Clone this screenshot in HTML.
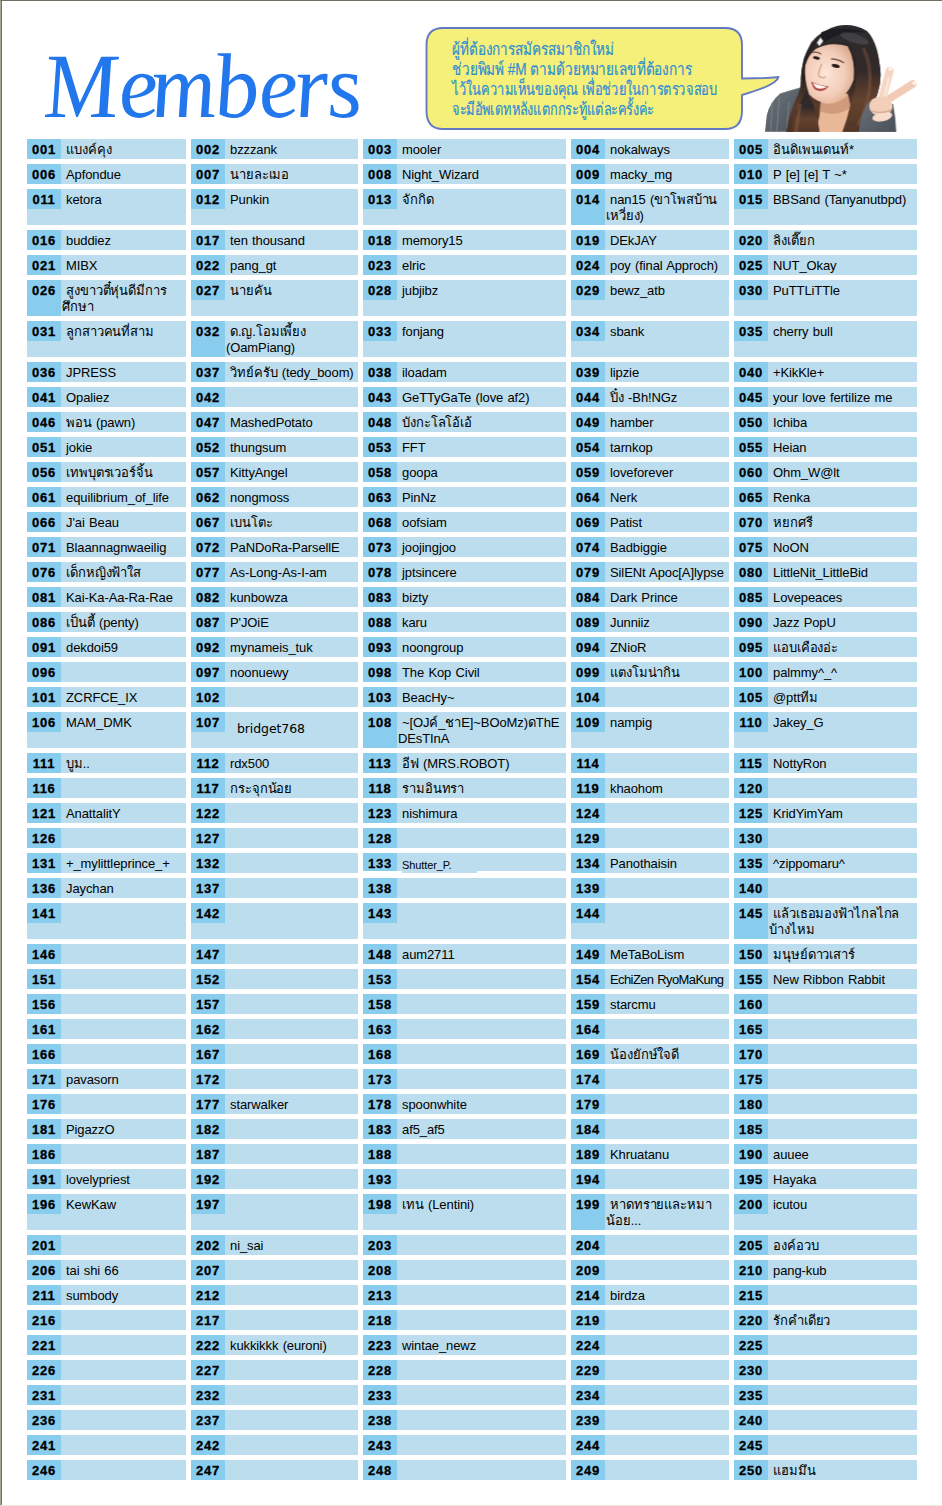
<!DOCTYPE html>
<html lang="th">
<head>
<meta charset="utf-8">
<title>Members</title>
<style>
html,body{margin:0;padding:0;background:#fff;}
body{width:942px;height:1506px;position:relative;overflow:hidden;font-family:"Liberation Sans",sans-serif;font-size:13px;color:#000;}
#frame{position:absolute;left:0;top:0;width:942px;height:1506px;box-sizing:border-box;border-left:1px solid #aca899;border-top:1px solid #716f64;border-bottom:1px solid #ece9d8;}
#frame:before{content:"";position:absolute;left:0;top:0;width:1px;height:1504px;background:#716f64;}
#title{position:absolute;left:40px;top:20px;width:330px;height:115px;overflow:visible;}
#bubble{position:absolute;left:415px;top:15px;width:380px;height:125px;overflow:visible;}
#photo{position:absolute;left:760px;top:20px;width:165px;height:115px;overflow:hidden;}
table{position:absolute;left:22px;top:134px;width:900px;border-collapse:separate;border-spacing:5px;table-layout:fixed;}
td{padding:0;height:20px;vertical-align:top;background:#bbddee;}
tr.t td{height:36px;}
td div{position:relative;height:20px;padding:3px 0 0 35px;box-sizing:border-box;line-height:16px;white-space:nowrap;text-indent:4px;overflow:hidden;letter-spacing:-0.1px;word-spacing:0.8px;}
tr.t td div{height:36px;}
td b{position:absolute;left:0;top:0;width:34px;height:20px;line-height:22px;text-align:center;text-indent:0;background:#88ccee;font-weight:bold;letter-spacing:0.7px;word-spacing:0;-webkit-text-stroke:0.3px #000;overflow:hidden;}
td.w b{height:36px;}
td.n div{letter-spacing:-0.6px;}
td i{font-style:normal;}
td .v{font-family:"DejaVu Sans",sans-serif;font-size:12.5px;position:relative;left:7px;top:6px;}
td .s{font-size:11px;position:relative;top:1px;}
td u{position:absolute;bottom:0;height:2px;background:#fff;}
td u.l{left:0;width:39px;}
td u.r{left:114px;right:0;}
</style>
</head>
<body>
<div id="frame"></div>
<svg id="title" viewBox="0 0 330 115">
<text transform="translate(0 97) skewX(6) scale(0.98 1)" x="6.100 82.600 115.600 180.100 225.600 262 295.200" y="0" font-family="Liberation Serif, serif" font-style="italic" font-size="92" fill="#2277ec">Members</text>
</svg>
<svg id="bubble" viewBox="0 0 380 125">
<path d="M28 13 H310 Q327 13 327 30 V63.5 Q350 63.5 363.500 62 Q362 70 327 80 V96 Q327 114 310 114 H28 Q11.500 114 11.500 96 V30 Q11.500 13 28 13 Z" fill="#f5f07a" stroke="#6479c4" stroke-width="1.9" stroke-linejoin="round"/>
<g font-family="Liberation Sans, sans-serif" font-size="17" fill="#2f8fd3" stroke="#2f8fd3" stroke-width="0.200">
<text x="37" y="39.500" textLength="162" lengthAdjust="spacingAndGlyphs">ผู้ที่ต้องการสมัครสมาชิกใหม่</text>
<text x="37" y="60" textLength="240" lengthAdjust="spacingAndGlyphs">ช่วยพิมพ์ #M ตามด้วยหมายเลขที่ต้องการ</text>
<text x="37" y="80" textLength="265" lengthAdjust="spacingAndGlyphs">ไว้ในความเห็นของคุณ เพื่อช่วยในการตรวจสอบ</text>
<text x="37" y="100" textLength="202" lengthAdjust="spacingAndGlyphs">จะมีอัพเดทหลังแตกกระทู้แต่ละครั้งค่ะ</text>
</g>
</svg>
<svg id="photo" viewBox="0 0 942 657">
<defs>
<linearGradient id="hg" x1="0" y1="0" x2="0" y2="1"><stop offset="0" stop-color="#2a2a2d"/><stop offset="0.5" stop-color="#2b2422"/><stop offset="0.75" stop-color="#5a3c2d"/><stop offset="1" stop-color="#4a3227"/></linearGradient>
<linearGradient id="hl" x1="0" y1="0" x2="0" y2="1"><stop offset="0" stop-color="#2c2b2e"/><stop offset="0.4" stop-color="#33292a"/><stop offset="0.7" stop-color="#66432f"/><stop offset="1" stop-color="#523628"/></linearGradient>
<radialGradient id="fg" cx="0.42" cy="0.5" r="0.65"><stop offset="0" stop-color="#fde6da"/><stop offset="0.6" stop-color="#f3cdb9"/><stop offset="1" stop-color="#d9a68c"/></radialGradient>
<linearGradient id="jg" x1="0" y1="0" x2="1" y2="1"><stop offset="0" stop-color="#6c747c"/><stop offset="1" stop-color="#4a5058"/></linearGradient>
<filter id="bl" x="-5%" y="-5%" width="110%" height="110%"><feGaussianBlur stdDeviation="3"/></filter>
<clipPath id="pc"><rect x="0" y="0" width="942" height="637"/></clipPath>
</defs>
<g clip-path="url(#pc)"><g filter="url(#bl)">
<!-- jacket left -->
<path d="M28 640 L38 545 Q55 470 115 420 Q190 395 262 378 L230 470 L180 640 Z" fill="url(#jg)"/>
<path d="M70 470 L60 640 M110 440 L95 640 M150 640 L165 470" stroke="#7d868e" stroke-width="10" fill="none" opacity="0.5"/>
<!-- hair back -->
<path d="M232 335 Q238 220 292 128 Q350 55 440 33 Q530 15 610 62 Q668 120 682 250 Q700 340 668 430 Q640 500 600 570 L565 640 L150 640 Q165 540 205 450 Q235 400 232 335 Z" fill="url(#hg)"/>
<!-- neck / chest -->
<path d="M350 440 L500 420 Q515 520 560 640 L320 640 Q345 540 350 440 Z" fill="#e9b896"/>
<path d="M345 470 Q420 500 505 430 L520 500 Q430 560 340 520 Z" fill="#c48f70" opacity="0.7"/>
<!-- face -->
<path d="M318 165 Q400 120 500 150 Q545 230 535 340 Q500 440 410 475 Q330 480 280 425 Q250 340 258 255 Q280 195 318 165 Z" fill="url(#fg)"/>
<!-- hair front strands over face sides -->
<path d="M330 150 Q420 110 505 135 Q540 170 548 260 Q556 380 520 470 Q500 560 470 640 L560 640 Q640 520 672 420 Q700 330 680 240 Q660 110 590 60 Q480 20 380 80 Q320 120 300 170 Z" fill="url(#hl)"/>
<path d="M300 170 Q270 210 255 270 Q240 320 236 350 Q232 300 250 220 Q275 150 330 110 Z" fill="#2b2220"/>
<path d="M262 400 Q230 470 200 560 L178 640 L340 640 Q330 560 300 470 Q275 440 262 400 Z" fill="url(#hl)"/>
<path d="M590 160 Q640 260 625 400 Q610 500 560 600" stroke="#8c5c3e" stroke-width="20" fill="none" opacity="0.4"/>
<path d="M230 480 Q215 560 205 640" stroke="#8c5c3e" stroke-width="18" fill="none" opacity="0.5"/>
<path d="M350 70 Q460 30 600 70 Q520 60 440 90 Q380 110 340 150 Z" fill="#1d1d20"/>
<ellipse cx="540" cy="105" rx="85" ry="26" fill="#5a5a60" opacity="0.45" transform="rotate(18 540 105)"/>
<!-- eyes, brows -->
<ellipse cx="322" cy="217" rx="20" ry="9" fill="#2a1d1a" transform="rotate(12 322 217)"/>
<ellipse cx="432" cy="262" rx="24" ry="10" fill="#2a1d1a" transform="rotate(14 432 262)"/>
<path d="M300 185 Q325 178 350 195" stroke="#5a3c30" stroke-width="8" fill="none" opacity="0.8"/>
<path d="M405 222 Q445 222 480 245" stroke="#5a3c30" stroke-width="8" fill="none" opacity="0.8"/>
<!-- nose -->
<path d="M352 250 Q330 300 335 320 Q350 335 375 325" stroke="#d09878" stroke-width="9" fill="none" opacity="0.7"/>
<!-- mouth -->
<path d="M292 352 Q335 372 392 380 Q360 418 318 400 Q298 385 292 352 Z" fill="#b24d48"/>
<path d="M302 360 Q340 376 382 382 Q355 398 322 388 Q308 378 302 360 Z" fill="#fff8f2"/>
<!-- hair clip -->
<path d="M325 130 L345 100 L360 120 L350 135 L338 148 Z" fill="#f4f4f4" stroke="#9a9a9a" stroke-width="4"/>
<!-- sleeve right -->
<path d="M565 640 Q570 560 598 505 Q620 460 650 448 L668 520 L760 478 Q775 560 778 640 Z" fill="url(#jg)"/>
<!-- hand -->
<path d="M700 440 L740 290" stroke="#f5d6c4" stroke-width="46" stroke-linecap="round" fill="none"/>
<path d="M745 445 L872 365" stroke="#f1cbb6" stroke-width="44" stroke-linecap="round" fill="none"/>
<ellipse cx="690" cy="492" rx="66" ry="56" fill="#f3cfba"/>
<ellipse cx="698" cy="552" rx="58" ry="26" fill="#f7dccb" transform="rotate(-12 698 552)"/>
<path d="M636 520 Q690 538 748 515" stroke="#c99a80" stroke-width="8" fill="none" opacity="0.7"/>
<path d="M712 430 L735 330" stroke="#fdeee6" stroke-width="12" stroke-linecap="round" fill="none" opacity="0.8"/>
<ellipse cx="744" cy="278" rx="12" ry="14" fill="#fdf1ec"/>
<ellipse cx="882" cy="360" rx="14" ry="11" fill="#fdf1ec"/>
</g></g>
</svg>
<table>
<colgroup><col style="width:159px"><col style="width:167px"><col style="width:203px"><col style="width:158px"><col style="width:183px"></colgroup>
<tr><td><div><b>001</b>แบงค์คุง</div></td><td><div><b>002</b>bzzzank</div></td><td><div><b>003</b>mooler</div></td><td><div><b>004</b>nokalways</div></td><td><div><b>005</b>อินดิเพนเดนท์*</div></td></tr>
<tr><td><div><b>006</b>Apfondue</div></td><td><div><b>007</b>นายละเมอ</div></td><td><div><b>008</b>Night_Wizard</div></td><td><div><b>009</b>macky_mg</div></td><td><div><b>010</b>P [e] [e] T ~*</div></td></tr>
<tr class="t"><td><div><b>011</b>ketora</div></td><td><div><b>012</b>Punkin</div></td><td><div><b>013</b>จักกิด</div></td><td class="w"><div><b>014</b>nan15 (ขาโพสบ้าน<br><i>เหวี่ยง)</i></div></td><td><div><b>015</b>BBSand (Tanyanutbpd)</div></td></tr>
<tr><td><div><b>016</b>buddiez</div></td><td><div><b>017</b>ten thousand</div></td><td><div><b>018</b>memory15</div></td><td><div><b>019</b>DEkJAY</div></td><td><div><b>020</b>ลิงเตี๊ยก</div></td></tr>
<tr><td><div><b>021</b>MIBX</div></td><td><div><b>022</b>pang_gt</div></td><td><div><b>023</b>elric</div></td><td><div><b>024</b>poy (final Approch)</div></td><td><div><b>025</b>NUT_Okay</div></td></tr>
<tr class="t"><td class="w"><div><b>026</b>สูงขาวตี๋หุ่นดีมีการ<br><i>ศึกษา</i></div></td><td><div><b>027</b>นายคัน</div></td><td><div><b>028</b>jubjibz</div></td><td><div><b>029</b>bewz_atb</div></td><td><div><b>030</b>PuTTLiTTle</div></td></tr>
<tr class="t"><td><div><b>031</b>ลูกสาวคนที่สาม</div></td><td class="w"><div><b>032</b>ด.ญ.โอมเพี้ยง<br><i>(OamPiang)</i></div></td><td><div><b>033</b>fonjang</div></td><td><div><b>034</b>sbank</div></td><td><div><b>035</b>cherry bull</div></td></tr>
<tr><td><div><b>036</b>JPRESS</div></td><td><div><b>037</b>วิทย์ครับ (tedy_boom)</div></td><td><div><b>038</b>iloadam</div></td><td><div><b>039</b>lipzie</div></td><td><div><b>040</b>+KikKle+</div></td></tr>
<tr><td><div><b>041</b>Opaliez</div></td><td><div><b>042</b></div></td><td><div><b>043</b>GeTTyGaTe (love af2)</div></td><td><div><b>044</b>ปิ๋ง -Bh!NGz</div></td><td><div><b>045</b>your love fertilize me</div></td></tr>
<tr><td><div><b>046</b>พอน (pawn)</div></td><td><div><b>047</b>MashedPotato</div></td><td><div><b>048</b>บังกะโลโอ้เอ้</div></td><td><div><b>049</b>hamber</div></td><td><div><b>050</b>Ichiba</div></td></tr>
<tr><td><div><b>051</b>jokie</div></td><td><div><b>052</b>thungsum</div></td><td><div><b>053</b>FFT</div></td><td><div><b>054</b>tarnkop</div></td><td><div><b>055</b>Heian</div></td></tr>
<tr><td><div><b>056</b>เทพบุตรเวอร์จิ้น</div></td><td><div><b>057</b>KittyAngel</div></td><td><div><b>058</b>goopa</div></td><td><div><b>059</b>loveforever</div></td><td><div><b>060</b>Ohm_W@lt</div></td></tr>
<tr><td><div><b>061</b>equilibrium_of_life</div></td><td><div><b>062</b>nongmoss</div></td><td><div><b>063</b>PinNz</div></td><td><div><b>064</b>Nerk</div></td><td><div><b>065</b>Renka</div></td></tr>
<tr><td><div><b>066</b>J'ai Beau</div></td><td><div><b>067</b>เบนโตะ</div></td><td><div><b>068</b>oofsiam</div></td><td><div><b>069</b>Patist</div></td><td><div><b>070</b>หยกศรี</div></td></tr>
<tr><td><div><b>071</b>Blaannagnwaeilig</div></td><td><div><b>072</b>PaNDoRa-ParsellE</div></td><td><div><b>073</b>joojingjoo</div></td><td><div><b>074</b>Badbiggie</div></td><td><div><b>075</b>NoON</div></td></tr>
<tr><td><div><b>076</b>เด็กหญิงฟ้าใส</div></td><td><div><b>077</b>As-Long-As-I-am</div></td><td><div><b>078</b>jptsincere</div></td><td><div><b>079</b>SilENt Apoc[A]lypse</div></td><td><div><b>080</b>LittleNit_LittleBid</div></td></tr>
<tr><td><div><b>081</b>Kai-Ka-Aa-Ra-Rae</div></td><td><div><b>082</b>kunbowza</div></td><td><div><b>083</b>bizty</div></td><td><div><b>084</b>Dark Prince</div></td><td><div><b>085</b>Lovepeaces</div></td></tr>
<tr><td><div><b>086</b>เป็นตี้ (penty)</div></td><td><div><b>087</b>P'JOiE</div></td><td><div><b>088</b>karu</div></td><td><div><b>089</b>Junniiz</div></td><td><div><b>090</b>Jazz PopU</div></td></tr>
<tr><td><div><b>091</b>dekdoi59</div></td><td><div><b>092</b>mynameis_tuk</div></td><td><div><b>093</b>noongroup</div></td><td><div><b>094</b>ZNioR</div></td><td><div><b>095</b>แอบเคืองอ่ะ</div></td></tr>
<tr><td><div><b>096</b></div></td><td><div><b>097</b>noonuewy</div></td><td><div><b>098</b>The Kop Civil</div></td><td><div><b>099</b>แตงโมน่ากิน</div></td><td><div><b>100</b>palmmy^_^</div></td></tr>
<tr><td><div><b>101</b>ZCRFCE_IX</div></td><td><div><b>102</b></div></td><td><div><b>103</b>BeacHy~</div></td><td><div><b>104</b></div></td><td><div><b>105</b>@pttทีม</div></td></tr>
<tr class="t"><td><div><b>106</b>MAM_DMK</div></td><td><div><b>107</b><span class="v">bridget768</span></div></td><td class="w"><div><b>108</b>~[OJค์_ชาE]~BOoMz)ดThE<br><i>DEsTInA</i></div></td><td><div><b>109</b>nampig</div></td><td><div><b>110</b>Jakey_G</div></td></tr>
<tr><td><div><b>111</b>บูม..</div></td><td><div><b>112</b>rdx500</div></td><td><div><b>113</b>อีฟ (MRS.ROBOT)</div></td><td><div><b>114</b></div></td><td><div><b>115</b>NottyRon</div></td></tr>
<tr><td><div><b>116</b></div></td><td><div><b>117</b>กระจุกน้อย</div></td><td><div><b>118</b>รามอินทรา</div></td><td><div><b>119</b>khaohom</div></td><td><div><b>120</b></div></td></tr>
<tr><td><div><b>121</b>AnattalitY</div></td><td><div><b>122</b></div></td><td><div><b>123</b>nishimura</div></td><td><div><b>124</b></div></td><td><div><b>125</b>KridYimYam</div></td></tr>
<tr><td><div><b>126</b></div></td><td><div><b>127</b></div></td><td><div><b>128</b></div></td><td><div><b>129</b></div></td><td><div><b>130</b></div></td></tr>
<tr><td><div><b>131</b>+_mylittleprince_+</div></td><td><div><b>132</b></div></td><td><div><b>133</b><span class="s">Shutter_P.</span><u class="l"></u><u class="r"></u></div></td><td><div><b>134</b>Panothaisin</div></td><td><div><b>135</b>^zippomaru^</div></td></tr>
<tr><td><div><b>136</b>Jaychan</div></td><td><div><b>137</b></div></td><td><div><b>138</b></div></td><td><div><b>139</b></div></td><td><div><b>140</b></div></td></tr>
<tr class="t"><td><div><b>141</b></div></td><td><div><b>142</b></div></td><td><div><b>143</b></div></td><td><div><b>144</b></div></td><td class="w"><div><b>145</b>แล้วเธอมองฟ้าไกลไกล<br><i>บ้างไหม</i></div></td></tr>
<tr><td><div><b>146</b></div></td><td><div><b>147</b></div></td><td><div><b>148</b>aum2711</div></td><td><div><b>149</b>MeTaBoLism</div></td><td><div><b>150</b>มนุษย์ดาวเสาร์</div></td></tr>
<tr><td><div><b>151</b></div></td><td><div><b>152</b></div></td><td><div><b>153</b></div></td><td class="n"><div><b>154</b>EchiZen RyoMaKung</div></td><td><div><b>155</b>New Ribbon Rabbit</div></td></tr>
<tr><td><div><b>156</b></div></td><td><div><b>157</b></div></td><td><div><b>158</b></div></td><td><div><b>159</b>starcmu</div></td><td><div><b>160</b></div></td></tr>
<tr><td><div><b>161</b></div></td><td><div><b>162</b></div></td><td><div><b>163</b></div></td><td><div><b>164</b></div></td><td><div><b>165</b></div></td></tr>
<tr><td><div><b>166</b></div></td><td><div><b>167</b></div></td><td><div><b>168</b></div></td><td><div><b>169</b>น้องยักษ์ใจดี</div></td><td><div><b>170</b></div></td></tr>
<tr><td><div><b>171</b>pavasorn</div></td><td><div><b>172</b></div></td><td><div><b>173</b></div></td><td><div><b>174</b></div></td><td><div><b>175</b></div></td></tr>
<tr><td><div><b>176</b></div></td><td><div><b>177</b>starwalker</div></td><td><div><b>178</b>spoonwhite</div></td><td><div><b>179</b></div></td><td><div><b>180</b></div></td></tr>
<tr><td><div><b>181</b>PigazzO</div></td><td><div><b>182</b></div></td><td><div><b>183</b>af5_af5</div></td><td><div><b>184</b></div></td><td><div><b>185</b></div></td></tr>
<tr><td><div><b>186</b></div></td><td><div><b>187</b></div></td><td><div><b>188</b></div></td><td><div><b>189</b>Khruatanu</div></td><td><div><b>190</b>auuee</div></td></tr>
<tr><td><div><b>191</b>lovelypriest</div></td><td><div><b>192</b></div></td><td><div><b>193</b></div></td><td><div><b>194</b></div></td><td><div><b>195</b>Hayaka</div></td></tr>
<tr class="t"><td><div><b>196</b>KewKaw</div></td><td><div><b>197</b></div></td><td><div><b>198</b>เทน (Lentini)</div></td><td class="w"><div><b>199</b>หาดทรายและหมา<br><i>น้อย...</i></div></td><td><div><b>200</b>icutou</div></td></tr>
<tr><td><div><b>201</b></div></td><td><div><b>202</b>ni_sai</div></td><td><div><b>203</b></div></td><td><div><b>204</b></div></td><td><div><b>205</b>องค์อวบ</div></td></tr>
<tr><td><div><b>206</b>tai shi 66</div></td><td><div><b>207</b></div></td><td><div><b>208</b></div></td><td><div><b>209</b></div></td><td><div><b>210</b>pang-kub</div></td></tr>
<tr><td><div><b>211</b>sumbody</div></td><td><div><b>212</b></div></td><td><div><b>213</b></div></td><td><div><b>214</b>birdza</div></td><td><div><b>215</b></div></td></tr>
<tr><td><div><b>216</b></div></td><td><div><b>217</b></div></td><td><div><b>218</b></div></td><td><div><b>219</b></div></td><td><div><b>220</b>รักคำเดียว</div></td></tr>
<tr><td><div><b>221</b></div></td><td><div><b>222</b>kukkikkk (euroni)</div></td><td><div><b>223</b>wintae_newz</div></td><td><div><b>224</b></div></td><td><div><b>225</b></div></td></tr>
<tr><td><div><b>226</b></div></td><td><div><b>227</b></div></td><td><div><b>228</b></div></td><td><div><b>229</b></div></td><td><div><b>230</b></div></td></tr>
<tr><td><div><b>231</b></div></td><td><div><b>232</b></div></td><td><div><b>233</b></div></td><td><div><b>234</b></div></td><td><div><b>235</b></div></td></tr>
<tr><td><div><b>236</b></div></td><td><div><b>237</b></div></td><td><div><b>238</b></div></td><td><div><b>239</b></div></td><td><div><b>240</b></div></td></tr>
<tr><td><div><b>241</b></div></td><td><div><b>242</b></div></td><td><div><b>243</b></div></td><td><div><b>244</b></div></td><td><div><b>245</b></div></td></tr>
<tr><td><div><b>246</b></div></td><td><div><b>247</b></div></td><td><div><b>248</b></div></td><td><div><b>249</b></div></td><td><div><b>250</b>แฮมมึน</div></td></tr>
</table>
</body>
</html>
